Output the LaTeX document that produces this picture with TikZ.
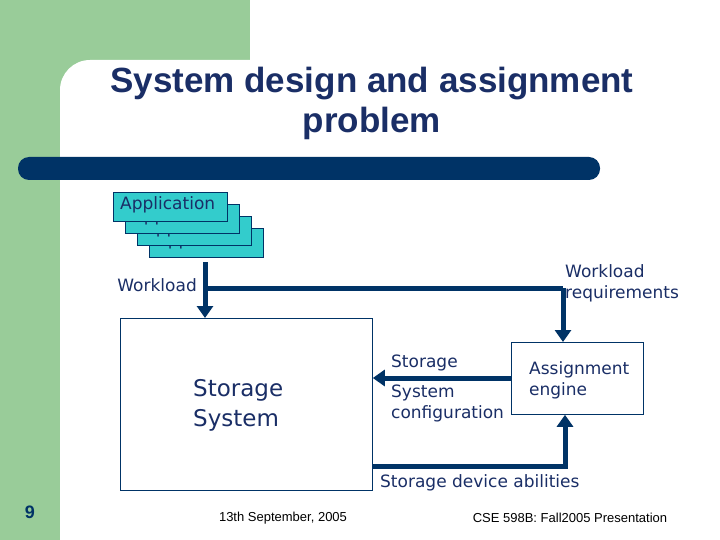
\documentclass[tikz,border=0pt]{standalone}
\usepackage{fontspec}
\setmainfont{DejaVu Sans}
\newfontfamily\arial{Liberation Sans}
\usetikzlibrary{arrows.meta}
\definecolor{navy}{HTML}{003366}
\definecolor{txt}{HTML}{1A2E66}
\definecolor{grn}{HTML}{99CC99}
\definecolor{cyn}{HTML}{33CCCC}
\begin{document}
\begin{tikzpicture}[x=1pt,y=-1pt,
  lbl/.style={text=txt,font=\fontsize{17}{21}\selectfont,align=left,inner sep=0pt},
  flow/.style={navy,line width=5pt,-{Triangle[width=16pt,length=12pt]}},
  appbox/.style={draw=navy,fill=cyn,line width=0.8pt,minimum width=114pt,minimum height=29pt,anchor=north west,inner sep=0pt},
  blk/.style={draw=navy,line width=0.8pt,anchor=north west}]
\useasboundingbox (0,0) rectangle (720,540);
\fill[white] (0,0) rectangle (720,540);
\fill[grn] (0,0) rectangle (250,90);
\fill[grn] (0,0) rectangle (60,540);
\fill[white] (60,540) -- (60,90) arc[start angle=180,end angle=270,radius=30] -- (250,60) -- (720,60) -- (720,540) -- cycle;
\node[text=txt,font=\arial\bfseries\fontsize{35}{40}\selectfont,align=center] (title) at (372,103) {System design and assignment\\problem};
\fill[navy,rounded corners=11pt] (18,157) rectangle (600,180);
\foreach \i/\n in {3/a4,2/a3,1/a2,0/a1}{
  \node[appbox] (\n) at (113+12*\i,192+12*\i) {};
  \node[text=txt,font=\fontsize{17}{20}\selectfont,anchor=north west,inner sep=0pt] at (120+12*\i,196+12*\i) {Application};
}
\node[blk,minimum width=252pt,minimum height=172pt] (ss) at (120,318) {};
\node[text=txt,font=\fontsize{23}{30}\selectfont,align=left,anchor=west,inner sep=0pt] (sst) at (193,405) {Storage\\System};
\node[blk,minimum width=132pt,minimum height=72pt] (ae) at (511,342) {};
\node[lbl,anchor=west] (aet) at (529,380) {Assignment\\engine};
\coordinate (w0) at (205,262);
\coordinate (wc) at (205,288);
\coordinate (w1) at (563,288);
\coordinate (b0) at (372,466);
\coordinate (b1) at (565,466);
\draw[flow] (w0) -- (ss.north -| w0);
\draw[navy,line width=5pt] (wc) -- (w1);
\draw[flow] (w1) -- (ae.north -| w1);
\draw[flow] (ae.west |- 0,378) -- (ss.east |- 0,378);
\draw[flow] (b0) -- (b1) -- (ae.south -| b1);
\node[lbl,anchor=east] (wl) at (197,285) {Workload};
\node[lbl,anchor=west] (wr) at (565,283) {Workload\\requirements};
\node[lbl,anchor=west] (st) at (391,363) {Storage};
\node[lbl,anchor=west] (sc) at (391,403) {System\\configuration};
\node[lbl,anchor=west] (sd) at (380,483) {Storage device abilities};
\node[text=navy,font=\arial\bfseries\fontsize{18}{20}\selectfont] (pg) at (30,512) {9};
\node[font=\arial\fontsize{13}{15}\selectfont] (dt) at (283,518) {13th September, 2005};
\node[font=\arial\fontsize{13}{15}\selectfont] (cs) at (570,518) {CSE 598B: Fall2005 Presentation};
\end{tikzpicture}
\end{document}
